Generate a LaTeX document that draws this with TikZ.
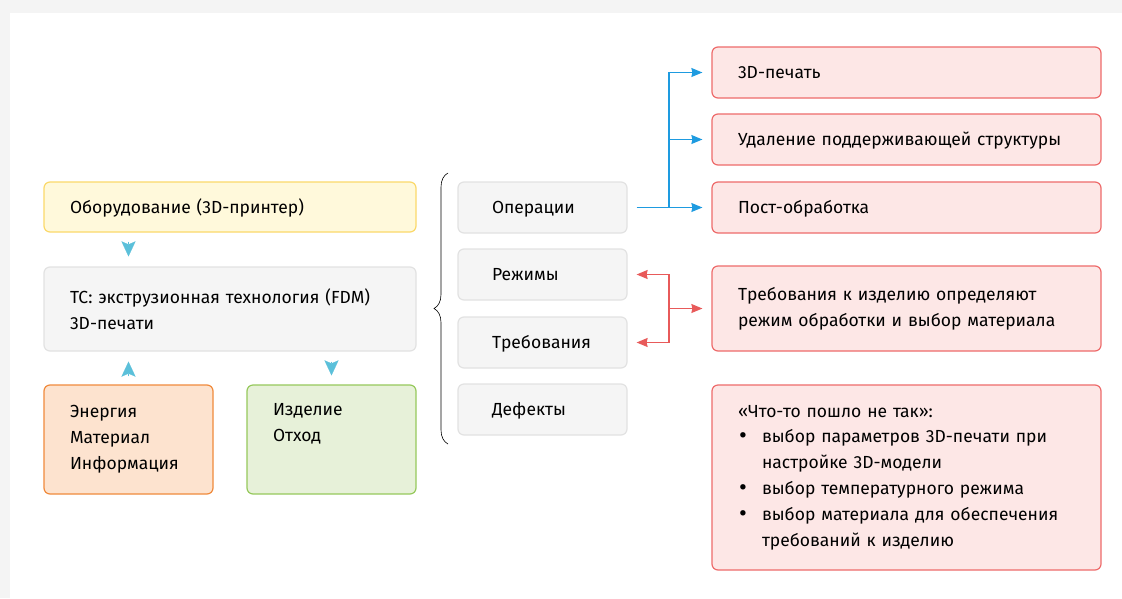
\documentclass[tikz,border=0pt]{standalone}
\usepackage{fontspec}
\setmainfont{Fira Sans}
\usetikzlibrary{arrows.meta,decorations.pathreplacing}
\definecolor{bgc}{HTML}{F4F4F4}
\definecolor{yfill}{HTML}{FFF9DB}
\definecolor{ydraw}{HTML}{FBD96A}
\definecolor{gfill}{HTML}{F5F5F5}
\definecolor{gdraw}{HTML}{E2E2E2}
\definecolor{ofill}{HTML}{FDE3CF}
\definecolor{odraw}{HTML}{F08A3C}
\definecolor{grfill}{HTML}{E7F1D9}
\definecolor{grdraw}{HTML}{96C95C}
\definecolor{rfill}{HTML}{FDE7E6}
\definecolor{rdraw}{HTML}{EE6B6B}
\definecolor{cyanc}{HTML}{5BC0DA}
\definecolor{bluec}{HTML}{1E9BE0}
\definecolor{redc}{HTML}{E85A5A}
\newcommand{\bitem}{\hangindent=24pt\hangafter=1\noindent\makebox[24pt][l]{\hspace{1pt}\raisebox{-1pt}{\fontsize{24}{0}\selectfont•}}}
\begin{document}
\begin{tikzpicture}[x=1pt,y=-1pt,
  box/.style={rounded corners=6pt, line width=1.2pt, inner xsep=26pt, inner ysep=0pt,
    align=left, font=\fontsize{17.5}{25.8}\selectfont, anchor=center},
  one/.style={text height=12pt, text depth=0pt},
  ybox/.style={box, fill=yfill, draw=ydraw},
  gbox/.style={box, fill=gfill, draw=gdraw},
  obox/.style={box, fill=ofill, draw=odraw},
  grbox/.style={box, fill=grfill, draw=grdraw},
  rbox/.style={box, fill=rfill, draw=rdraw, minimum width=389pt, text width=337pt},
  sbox/.style={gbox, one, inner xsep=34pt, minimum width=169pt, text width=101pt, minimum height=51pt},
  tri/.style={draw=cyanc, line width=0.1pt, -{Stealth[length=15pt,width=14pt,inset=3pt]}},
  barr/.style={draw=bluec, line width=1.2pt, -{Stealth[length=11pt,width=9pt,inset=1pt]}},
  rarr/.style={draw=redc, line width=1.2pt, -{Stealth[length=11pt,width=9pt,inset=1pt]}}
]
\useasboundingbox (0,0) rectangle (1122,598);
\fill[bgc] (0,0) rectangle (1122,598);
\fill[white] (10,13) rectangle (1122,598);

% left
\node[ybox, one, minimum width=372pt, text width=320pt, minimum height=50pt] (yel) at (230,207) {Оборудование (3D-принтер)};
\node[gbox, minimum width=372pt, text width=320pt, minimum height=84pt] (tc) at (230,309) {ТС: экструзионная технология (FDM)\\3D-печати};
\node[obox, minimum width=169pt, text width=117pt, minimum height=109pt] (en) at (128.5,439.5) {Энергия\\Материал\\Информация};
\node[grbox, minimum width=169pt, text width=117pt, minimum height=109pt] (iz) at (331.5,439.5) {Изделие\\Отход\\\strut};

\draw[tri] ([yshift=-9pt]yel.south -| en.north) -- ([yshift=10pt]tc.north -| en.north);
\draw[tri] ([yshift=8pt]en.north) -- ([yshift=-10pt]tc.south -| en.north);
\draw[tri] ([yshift=-10pt]tc.south -| iz.north) -- ([yshift=9pt]iz.north);

% brace
\draw[line width=0.6pt, decorate, decoration={brace, amplitude=14pt}] (448,444) -- (448,173);

% middle
\node[sbox] (op) at (542.5,207.5) {Операции};
\node[sbox] (rez) at (542.5,274.5) {Режимы};
\node[sbox] (treb) at (542.5,342.5) {Требования};
\node[sbox] (def) at (542.5,409.5) {Дефекты};

% right
\node[rbox, one, minimum height=51pt] (p3d) at (906.5,72.5) {3D-печать};
\node[rbox, one, minimum height=51pt] (ud) at (906.5,139.5) {Удаление поддерживающей структуры};
\node[rbox, one, minimum height=51pt] (post) at (906.5,207.5) {Пост-обработка};
\node[rbox, minimum height=85pt] (req) at (906.5,308.5) {Требования к изделию определяют\\режим обработки и выбор материала};
\node[rbox, minimum height=185pt] (bad) at (906.5,477.5) {%
  \noindent«Что-то пошло не так»:\par
  \bitem выбор параметров 3D-печати при\newline настройке 3D-модели\par
  \bitem выбор температурного режима\par
  \bitem выбор материала для обеспечения\newline требований к изделию\par};

% blue arrows
\coordinate (bj) at (669,207.5);
\draw[barr] ([xshift=9pt]op.east) -- ([xshift=-9pt]post.west);
\draw[barr] (bj) |- ([xshift=-9pt]p3d.west);
\draw[barr] (bj |- ud.west) -- ([xshift=-9pt]ud.west);

% red arrows
\coordinate (rj) at (669,308.5);
\draw[rarr] (rj) |- ([xshift=9pt]rez.east);
\draw[rarr] (rj) |- ([xshift=9pt]treb.east);
\draw[rarr] (rj) -- ([xshift=-9pt]req.west);
\end{tikzpicture}
\end{document}
